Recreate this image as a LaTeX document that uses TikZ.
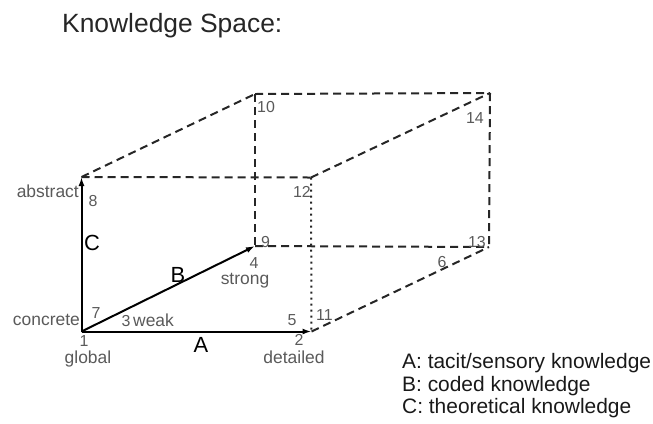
\documentclass[tikz,border=0pt]{standalone}
\usepackage{fontspec}
\setmainfont{Liberation Sans}
\usetikzlibrary{arrows.meta}
\definecolor{lbl}{HTML}{5A5A5A}
\begin{document}
\begin{tikzpicture}[x=1bp,y=-1bp,
  axis/.style={line width=2bp,-{Latex[length=9bp,width=6bp]}},
  hid/.style={line width=2bp,dash pattern=on 8bp off 5bp,color=black!85},
  dotline/.style={line width=2bp,dash pattern=on 2bp off 4bp,color=black!85},
  num/.style={inner sep=0,text=lbl,font=\fontsize{16}{18}\selectfont},
  word/.style={inner sep=0,text=lbl,font=\fontsize{17.5}{20}\selectfont},
  big/.style={inner sep=0,font=\fontsize{22}{24}\selectfont},
  leg/.style={inner sep=0,anchor=base west,text=black!90,font=\fontsize{21}{24}\selectfont}]
\useasboundingbox (0,0) rectangle (653,423);
\coordinate (p1) at (81.5,331.5);
\coordinate (p2) at (311.5,331.5);
\coordinate (p8) at (81.5,177);
\coordinate (p12) at (311,177.5);
\coordinate (p9) at (255,246);
\coordinate (p10) at (255,94);
\coordinate (p13) at (489,247);
\coordinate (p14) at (490,93);
% hidden / back edges
\draw[hid] (p8) -- (p12);
\draw[hid] (p8) -- (p10);
\draw[hid] (p10) -- (p14);
\draw[hid] (p12) -- (p14);
\draw[hid] (p10) -- (p9);
\draw[hid] (p9) -- (p13);
\draw[hid] (p14) -- (p13);
\draw[hid] (p2) -- (p13);
\draw[dotline] (p12) -- (p2);
% axes
\draw[axis] (p1) -- (p2);
\draw[axis] (p1) -- (p8);
\draw[axis] (p1) -- (p9);
% labels
\node[word,anchor=base east] (tabstract) at (79,197) {abstract};
\node[num,anchor=base] (n8) at (93,206) {8};
\node[big,anchor=base] (tC) at (92,250) {C};
\node[num,anchor=base west] (n10) at (257,112) {10};
\node[num,anchor=base east] (n12) at (311,197) {12};
\node[num,anchor=base east] (n14) at (484,123) {14};
\node[num,anchor=base west] (n9) at (261,247) {9};
\node[num,anchor=base east] (n13) at (486,247) {13};
\node[num,anchor=base] (n4) at (254,268) {4};
\node[word,anchor=base] (tstrong) at (245,284) {strong};
\node[big,anchor=base] (tB) at (178,282) {B};
\node[num,anchor=base] (n6) at (442,267) {6};
\node[num,anchor=base] (n7) at (96,318) {7};
\node[num,anchor=base] (n3) at (126,326) {3};
\node[word,anchor=base west] (tweak) at (133,326) {weak};
\node[word,anchor=base east] (tconcrete) at (80,325) {concrete};
\node[num,anchor=base] (n1) at (84,346) {1};
\node[word,anchor=base] (tglobal) at (88,363) {global};
\node[big,anchor=base] (tA) at (201,352) {A};
\node[num,anchor=base] (n2) at (299,345) {2};
\node[word,anchor=base] (tdetailed) at (294,363) {detailed};
\node[num,anchor=base] (n5) at (292,325) {5};
\node[num,anchor=base west] (n11) at (316,320) {11};
% legend
\node[leg] (lA) at (402,368) {A: tacit/sensory knowledge};
\node[leg] (lB) at (402,391) {B: coded knowledge};
\node[leg] (lC) at (402,413) {C: theoretical knowledge};
% title
\node[anchor=base west,inner sep=0,text=black!85,font=\fontsize{26.5}{30}\selectfont] (title) at (62,32) {Knowledge Space:};
\end{tikzpicture}
\end{document}
